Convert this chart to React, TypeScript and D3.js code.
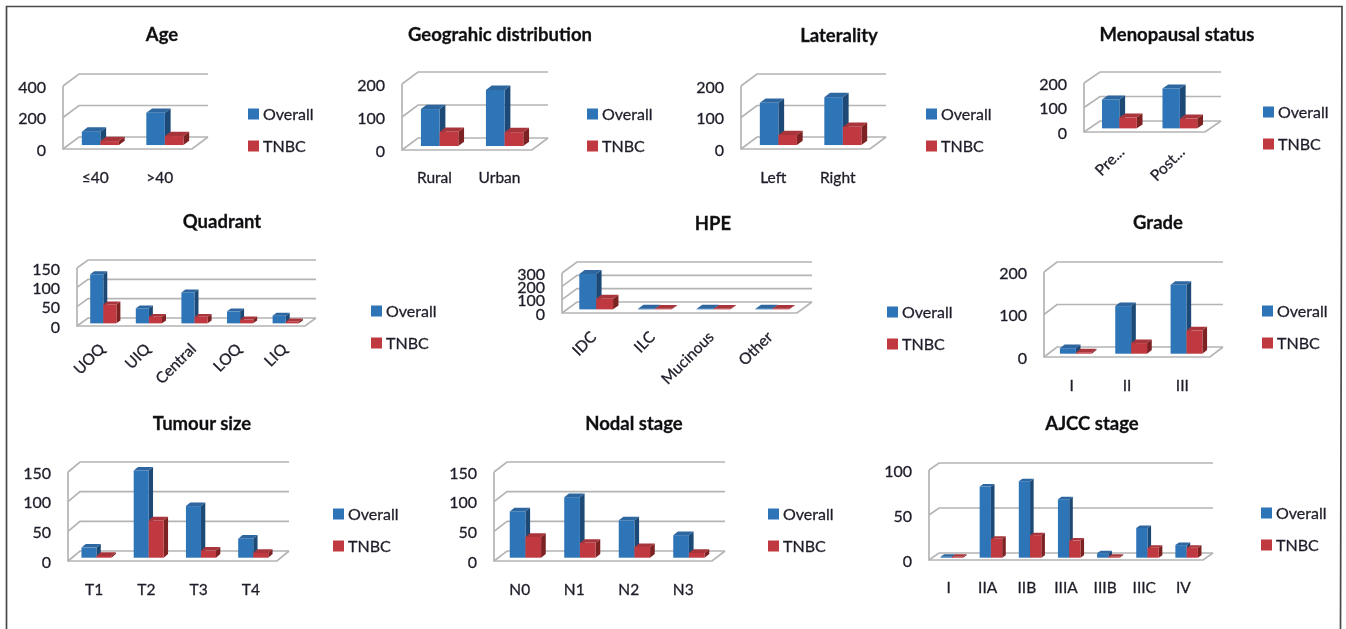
import * as d3 from "d3";

// values, one pair of arrays per panel
const ageCats = ["≤40", ">40"];
const ageOverall = [85, 205];
const ageTnbc = [25, 57];

const geoCats = ["Rural", "Urban"];
const geoOverall = [112, 170];
const geoTnbc = [43, 42];

const latCats = ["Left", "Right"];
const latOverall = [134, 152];
const latTnbc = [32, 58];

const menoCats = ["Pre...", "Post..."];
const menoOverall = [118, 163];
const menoTnbc = [45, 40];

const quadCats = ["UOQ", "UIQ", "Central", "LOQ", "LIQ"];
const quadOverall = [127, 39, 80, 31, 20];
const quadTnbc = [49, 17, 17, 10, 5];

const hpeCats = ["IDC", "ILC", "Mucinous", "Other"];
const hpeOverall = [265, 5, 5, 5];
const hpeTnbc = [80, 4, 4, 4];

const gradeCats = ["I", "II", "III"];
const gradeOverall = [13, 112, 162];
const gradeTnbc = [3, 25, 55];

const sizeCats = ["T1", "T2", "T3", "T4"];
const sizeOverall = [17, 147, 87, 32];
const sizeTnbc = [3, 63, 12, 8];

const nodalCats = ["N0", "N1", "N2", "N3"];
const nodalOverall = [78, 102, 63, 38];
const nodalTnbc = [35, 25, 18, 8];

const ajccCats = ["I", "IIA", "IIB", "IIIA", "IIIB", "IIIC", "IV"];
const ajccOverall = [1, 79, 85, 65, 5, 33, 14];
const ajccTnbc = [1, 21, 25, 19, 1, 11, 11];

const seriesNames = ["Overall", "TNBC"];
const font = "Lato, 'Open Sans', sans-serif";

type Panel = {
  title: string;
  titleX: number;
  titleY: number;
  cats: string[];
  overall: number[];
  tnbc: number[];
  ticks: number[];
  left: number;
  right: number;
  floor: number;
  top: number;
  dx: number;
  dy: number;
  legendX: number;
  legendY: number;
  labelY: number;
  labelDx?: number;
  barShift?: number;
  rotated?: boolean;
};

const panels: Panel[] = [
  { title: "Age", titleX: 162, titleY: 35, cats: ageCats, overall: ageOverall, tnbc: ageTnbc, ticks: [0, 200, 400], left: 63, right: 192, floor: 149, top: 86, dx: 16, dy: 12, legendX: 248, legendY: 114, labelY: 178 },
  { title: "Geograhic distribution", titleX: 500, titleY: 35, cats: geoCats, overall: geoOverall, tnbc: geoTnbc, ticks: [0, 100, 200], left: 402, right: 532, floor: 150, top: 84, dx: 16, dy: 12, legendX: 587, legendY: 114, labelY: 178 },
  { title: "Laterality", titleX: 839, titleY: 36, cats: latCats, overall: latOverall, tnbc: latTnbc, ticks: [0, 100, 200], left: 741, right: 870, floor: 149, top: 86, dx: 16, dy: 12, legendX: 926, legendY: 114, labelY: 178 },
  { title: "Menopausal status", titleX: 1177, titleY: 35, cats: menoCats, overall: menoOverall, tnbc: menoTnbc, ticks: [0, 100, 200], left: 1084, right: 1205, floor: 132, top: 83, dx: 16, dy: 11, legendX: 1263, legendY: 112, labelY: 153, labelDx: 5, rotated: true },
  { title: "Quadrant", titleX: 222, titleY: 222, cats: quadCats, overall: quadOverall, tnbc: quadTnbc, ticks: [0, 50, 100, 150], left: 77, right: 305, floor: 326, top: 268, dx: 11, dy: 8, legendX: 371, legendY: 311, labelY: 350, rotated: true },
  { title: "HPE", titleX: 713, titleY: 224, cats: hpeCats, overall: hpeOverall, tnbc: hpeTnbc, ticks: [0, 100, 200, 300], left: 562, right: 797, floor: 313, top: 273, dx: 15, dy: 11, legendX: 887, legendY: 312, labelY: 338, rotated: true },
  { title: "Grade", titleX: 1158, titleY: 223, cats: gradeCats, overall: gradeOverall, tnbc: gradeTnbc, ticks: [0, 100, 200], left: 1044, right: 1210, floor: 357, top: 272, dx: 13, dy: 10, legendX: 1262, legendY: 311, labelY: 386 },
  { title: "Tumour size", titleX: 202, titleY: 424, cats: sizeCats, overall: sizeOverall, tnbc: sizeTnbc, ticks: [0, 50, 100, 150], left: 68, right: 277, floor: 561, top: 472, dx: 12, dy: 10, legendX: 333, legendY: 514, labelY: 590, barShift: -1.5 },
  { title: "Nodal stage", titleX: 634, titleY: 424, cats: nodalCats, overall: nodalOverall, tnbc: nodalTnbc, ticks: [0, 50, 100, 150], left: 494, right: 712, floor: 561, top: 472, dx: 13, dy: 10, legendX: 768, legendY: 514, labelY: 590, labelDx: -1.5 },
  { title: "AJCC stage", titleX: 1092, titleY: 424, cats: ajccCats, overall: ajccOverall, tnbc: ajccTnbc, ticks: [0, 50, 100], left: 929, right: 1203, floor: 560, top: 470, dx: 10, dy: 7, legendX: 1261, legendY: 513, labelY: 588 },
];

const grid = "#b4b4b4";
const ink = "#1f1f2a";
const blue = { front: "#2e74b8", top: "#2f66a0", side: "#1c4a75" };
const red = { front: "#c0393f", top: "#a8343a", side: "#7c2024" };

function Bar3D({ x, w, y0, y1, dx, dy, c }: { x: number; w: number; y0: number; y1: number; dx: number; dy: number; c: typeof blue }) {
  const poly = d3.line();
  const top: [number, number][] = [[x, y1], [x + dx, y1 - dy], [x + w + dx, y1 - dy], [x + w, y1]];
  const side: [number, number][] = [[x + w, y1], [x + w + dx, y1 - dy], [x + w + dx, y0 - dy], [x + w, y0]];
  return (
    <g>
      <path d={(poly(side) ?? "") + "Z"} fill={c.side} />
      <path d={(poly(top) ?? "") + "Z"} fill={c.top} />
      <rect x={x} y={y1} width={w} height={Math.max(0, y0 - y1)} fill={c.front} />
    </g>
  );
}

function ChartPanel({ p }: { p: Panel }) {
  const x = d3.scaleBand<string>().domain(p.cats).range([p.left, p.right]);
  const max = p.ticks[p.ticks.length - 1];
  const y = d3.scaleLinear().domain([0, max]).range([p.floor, p.top]);
  const groupW = x.bandwidth() * 0.575;
  const barW = groupW / 2;
  // bars stand about a third of the way into the floor
  const inX = p.dx * 0.32 + (p.barShift ?? 0);
  const inY = p.dy * 0.33;
  const bDx = p.dx * 0.36;
  const bDy = p.dy * 0.36;
  const backRight = p.right + p.dx;
  const textStyle = { stroke: ink, strokeWidth: 0.3 };

  return (
    <g fontFamily={font}>
      <text x={p.titleX} y={p.titleY} dy="0.35em" textAnchor="middle" fontSize={18.5} fontWeight={700} fill="#111" style={textStyle}>
        {p.title}
      </text>

      {/* walls and floor */}
      <path
        d={`M${p.left},${y(max)}V${p.floor}H${p.right}L${backRight},${p.floor - p.dy}`}
        fill="none"
        stroke={grid}
        strokeWidth={1.7}
      />
      {p.ticks.map((t) => (
        <g key={t}>
          <path
            d={`M${p.left},${y(t)}L${p.left + p.dx},${y(t) - p.dy}H${backRight}`}
            fill="none"
            stroke={grid}
            strokeWidth={1.7}
          />
          <text x={p.left - 17} y={y(t) + 1} dy="0.35em" textAnchor="end" fontSize={16} fill={ink} style={textStyle}>
            {t}
          </text>
        </g>
      ))}

      {p.cats.map((cat, i) => {
        const start = (x(cat) ?? 0) + (x.bandwidth() - groupW) / 2 + inX;
        const y0 = p.floor - inY;
        const centre = (x(cat) ?? 0) + x.bandwidth() / 2 + (p.labelDx ?? 0);
        return (
          <g key={cat}>
            <Bar3D x={start} w={barW} y0={y0} y1={y(p.overall[i]) - inY} dx={bDx} dy={bDy} c={blue} />
            <Bar3D x={start + barW} w={barW} y0={y0} y1={y(p.tnbc[i]) - inY} dx={bDx} dy={bDy} c={red} />
            {p.rotated ? (
              <text
                transform={`translate(${centre + 6},${p.labelY}) rotate(-45)`}
                textAnchor="end"
                fontSize={15.5}
                fill={ink}
                style={textStyle}
              >
                {cat}
              </text>
            ) : (
              <text x={centre} y={p.labelY} dy="0.35em" textAnchor="middle" fontSize={15.5} fill={ink} style={textStyle}>
                {cat}
              </text>
            )}
          </g>
        );
      })}

      {seriesNames.map((name, i) => (
        <g key={name} transform={`translate(${p.legendX},${p.legendY + i * 32})`}>
          <rect x={0} y={-5.5} width={11} height={11} fill={i === 0 ? blue.front : red.front} />
          <text x={15} dy="0.35em" fontSize={16} fill={ink} style={textStyle}>
            {name}
          </text>
        </g>
      ))}
    </g>
  );
}

export default function App() {
  return (
    <svg
      width={1346}
      height={629}
      style={{ position: "absolute", left: 0, top: 0, background: "#fff" }}
    >
      <defs>
        {/* the reference is a soft, upscaled scan */}
        <filter id="soft" x="0" y="0" width="100%" height="100%">
          <feGaussianBlur stdDeviation={0.45} />
        </filter>
      </defs>
      <g filter="url(#soft)">
        <rect width={1346} height={629} fill="#fff" />
        <path d="M6.5,629V6.5H1342L1340.5,629" fill="none" stroke="#4a4a4a" strokeWidth={1.7} />
        {panels.map((p) => (
          <ChartPanel key={p.title} p={p} />
        ))}
      </g>
    </svg>
  );
}
